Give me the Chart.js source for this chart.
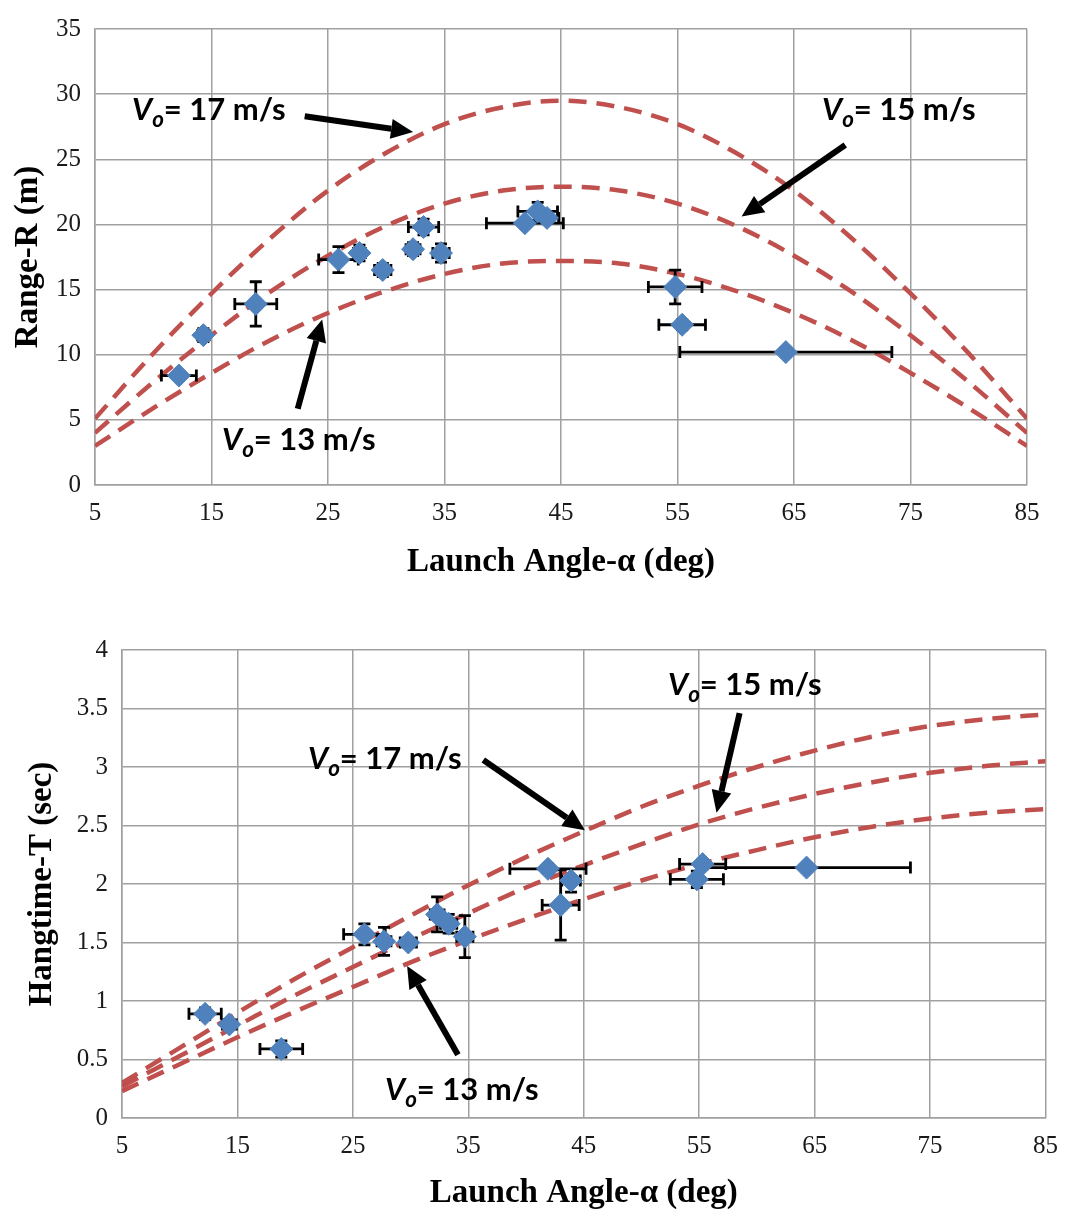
<!DOCTYPE html>
<html>
<head>
<meta charset="utf-8">
<script src="https://cdn.jsdelivr.net/npm/chart.js@4.4.1/dist/chart.umd.min.js"></script>
<style>
  body { margin: 0; background: #fff; }
  #page { position: relative; width: 1071px; height: 1213px; overflow: hidden; }
  #page canvas { position: absolute; left: 0; }
  .note { position: absolute; font: 700 31px Lato, sans-serif; line-height: 40px; white-space: nowrap; color: #000; }
  .note i { font-style: italic; }
  .note sub { font-size: 0.72em; font-style: italic; vertical-align: -0.3em; line-height: 0; }
</style>
</head>
<body>
<div id="page">
  <canvas id="rangeChart" width="1071" height="600" style="top:0"></canvas>
  <canvas id="timeChart" width="1071" height="603" style="top:610px"></canvas>

  <div class="note" style="left:132px;top:88px"><i>V</i><sub>o</sub>= 17 m/s</div>
  <div class="note" style="left:822px;top:88px"><i>V</i><sub>o</sub>= 15 m/s</div>
  <div class="note" style="left:222px;top:418px"><i>V</i><sub>o</sub>= 13 m/s</div>

  <div class="note" style="left:668px;top:663px"><i>V</i><sub>o</sub>= 15 m/s</div>
  <div class="note" style="left:308px;top:737px"><i>V</i><sub>o</sub>= 17 m/s</div>
  <div class="note" style="left:385px;top:1068px"><i>V</i><sub>o</sub>= 13 m/s</div>
</div>
<script>
// tick labels
const angleTicks = ["5", "15", "25", "35", "45", "55", "65", "75", "85"];
const rangeTicks = ["0", "5", "10", "15", "20", "25", "30", "35"];
const timeTicks = ["0", "0.5", "1", "1.5", "2", "2.5", "3", "3.5", "4"];

// measured points, range plot
const rangeAngle = [12.2, 14.3, 18.8, 25.9, 27.7, 29.7, 32.3, 33.2, 34.7, 41.9, 43.0, 43.8, 54.8, 55.4, 64.3];
const rangeValue = [8.4, 11.5, 13.9, 17.3, 17.8, 16.5, 18.1, 19.8, 17.8, 20.1, 21.0, 20.5, 15.2, 12.3, 10.2];
const rangeAngleErr = [1.5, 0.5, 1.8, 1.7, 0.5, 0.7, 0.6, 1.3, 0.7, 3.3, 1.7, 1.0, 2.3, 2.0, 9.1];
const rangeValueErr = [0.3, 0.5, 1.7, 1.0, 0.6, 0.5, 0.5, 0.6, 0.7, 0.3, 0.7, 0.4, 1.3, 0.4, 0.3];

// measured points, hangtime plot
const timeAngle = [12.2, 14.3, 18.8, 26.0, 27.7, 29.8, 32.3, 33.3, 34.7, 41.9, 43.9, 43.0, 55.3, 54.8, 64.3];
const timeValue = [0.89, 0.80, 0.59, 1.57, 1.51, 1.50, 1.74, 1.66, 1.55, 2.13, 2.03, 1.82, 2.17, 2.04, 2.14];
const timeAngleErr = [1.4, 0.6, 1.85, 1.8, 0.6, 0.7, 0.6, 0.7, 0.7, 3.3, 0.8, 1.6, 2.0, 2.3, 9.0];
const timeValueErr = [0.05, 0.04, 0.07, 0.09, 0.12, 0.04, 0.15, 0.08, 0.18, 0.04, 0.10, 0.30, 0.04, 0.07, 0.03];

// model curves, every 5 degrees
const curveAngle = [5, 10, 15, 20, 25, 30, 35, 40, 45, 50, 55, 60, 65, 70, 75, 80, 85];
const range17 = [5.1, 10.1, 14.7, 18.9, 22.6, 25.5, 27.7, 29.0, 29.5, 29.0, 27.7, 25.5, 22.6, 18.9, 14.7, 10.1, 5.1];
const range15 = [4.0, 7.9, 11.5, 14.8, 17.6, 19.9, 21.6, 22.6, 22.9, 22.6, 21.6, 19.9, 17.6, 14.8, 11.5, 7.9, 4.0];
const range13 = [3.0, 5.9, 8.6, 11.1, 13.2, 14.9, 16.2, 17.0, 17.2, 17.0, 16.2, 14.9, 13.2, 11.1, 8.6, 5.9, 3.0];
const time17 = [0.30, 0.60, 0.90, 1.19, 1.46, 1.73, 1.99, 2.23, 2.45, 2.66, 2.84, 3.00, 3.14, 3.26, 3.35, 3.41, 3.45];
const time15 = [0.27, 0.53, 0.79, 1.05, 1.29, 1.53, 1.75, 1.97, 2.16, 2.34, 2.51, 2.65, 2.77, 2.87, 2.95, 3.01, 3.05];
const time13 = [0.23, 0.46, 0.69, 0.91, 1.12, 1.33, 1.52, 1.70, 1.87, 2.03, 2.17, 2.29, 2.40, 2.49, 2.56, 2.61, 2.64];

// annotation arrows: [fromX, fromY, toX, toY] in data units
const rangeArrows = [
  [23.0, 28.3, 32.3, 27.1],
  [69.4, 26.1, 60.5, 20.6],
  [22.4, 5.85, 24.5, 12.7],
];
const timeArrows = [
  [58.5, 3.46, 56.5, 2.61],
  [36.3, 3.06, 45.1, 2.46],
  [34.1, 0.54, 29.7, 1.30],
];

const GRID = "#a0a0a0";
const RED = "#c0504d";
const BLUE = "#4f81bd";

// draw the error bars just before the diamonds
const errorBars = {
  id: "errorBars",
  beforeDatasetDraw(chart, args) {
    if (args.index !== 0) return;
    const { ctx, scales: { x, y } } = chart;
    const cap = 6;
    ctx.save();
    ctx.strokeStyle = "#000";
    ctx.lineWidth = 2.8;
    ctx.beginPath();
    for (const p of chart.data.datasets[0].data) {
      const px = x.getPixelForValue(p.x);
      const py = y.getPixelForValue(p.y);
      const xl = x.getPixelForValue(p.x - p.xe);
      const xr = x.getPixelForValue(p.x + p.xe);
      const yt = y.getPixelForValue(p.y + p.ye);
      const yb = y.getPixelForValue(p.y - p.ye);
      ctx.moveTo(xl, py); ctx.lineTo(xr, py);
      ctx.moveTo(xl, py - cap); ctx.lineTo(xl, py + cap);
      ctx.moveTo(xr, py - cap); ctx.lineTo(xr, py + cap);
      ctx.moveTo(px, yt); ctx.lineTo(px, yb);
      ctx.moveTo(px - cap, yt); ctx.lineTo(px + cap, yt);
      ctx.moveTo(px - cap, yb); ctx.lineTo(px + cap, yb);
    }
    ctx.stroke();
    ctx.restore();
  },
};

const makeArrows = (list) => ({
  id: "arrows",
  afterDraw(chart) {
    const { ctx, scales: { x, y } } = chart;
    ctx.save();
    ctx.fillStyle = "#000";
    ctx.strokeStyle = "#000";
    ctx.lineWidth = 6;
    for (const [x0, y0, x1, y1] of list) {
      const ax = x.getPixelForValue(x0), ay = y.getPixelForValue(y0);
      const bx = x.getPixelForValue(x1), by = y.getPixelForValue(y1);
      const ang = Math.atan2(by - ay, bx - ax);
      const head = 22, half = 10;
      const hx = bx - head * Math.cos(ang), hy = by - head * Math.sin(ang);
      ctx.beginPath();
      ctx.moveTo(ax, ay);
      ctx.lineTo(hx, hy);
      ctx.stroke();
      ctx.beginPath();
      ctx.moveTo(bx, by);
      ctx.lineTo(hx + half * Math.sin(ang), hy - half * Math.cos(ang));
      ctx.lineTo(hx - half * Math.sin(ang), hy + half * Math.cos(ang));
      ctx.closePath();
      ctx.fill();
    }
    ctx.restore();
  },
});

const points = (xs, ys, xe, ye) => xs.map((v, i) => ({ x: v, y: ys[i], xe: xe[i], ye: ye[i] }));
const curve = (ys) => curveAngle.map((v, i) => ({ x: v, y: ys[i] }));

const curveStyle = {
  showLine: true,
  pointRadius: 0,
  borderColor: RED,
  borderWidth: 4.5,
  borderDash: [18, 10],
  cubicInterpolationMode: "monotone",
  order: 1,
};

const makeChart = ({ id, pts, curves, yMax, yStep, yTicks, yTitle, arrows, axisW, axisH, pad, titlePad }) => {
  return new Chart(document.getElementById(id), {
    type: "scatter",
    data: {
      datasets: [
        {
          data: pts,
          pointStyle: "rectRot",
          pointRadius: 11.5,
          backgroundColor: BLUE,
          borderColor: BLUE,
          borderWidth: 1,
          order: 0,
        },
        ...curves.map((c) => ({ data: curve(c), ...curveStyle })),
      ],
    },
    options: {
      responsive: false,
      animation: false,
      events: [],
      layout: { padding: pad },
      plugins: { legend: { display: false }, tooltip: { enabled: false } },
      scales: {
        x: {
          min: 5,
          max: 85,
          afterBuildTicks: (s) => { s.ticks = angleTicks.map((t) => ({ value: Number(t) })); },
          afterFit: (s) => { s.height = axisH; },
          ticks: {
            callback: (v, i) => angleTicks[i],
            font: { family: "Liberation Serif", size: 25 },
            color: "#1a1a1a",
            padding: 13,
            maxRotation: 0,
          },
          grid: { color: GRID, lineWidth: 1.5, drawTicks: false },
          border: { display: true, color: GRID, width: 1.5 },
          title: {
            display: true,
            text: "Launch Angle-α (deg)",
            font: { family: "Liberation Serif", size: 33, weight: "bold" },
            color: "#000",
            padding: { top: 0, bottom: titlePad.x },
          },
        },
        y: {
          min: 0,
          max: yMax,
          ticks: {
            stepSize: yStep,
            callback: (v, i) => yTicks[i],
            font: { family: "Liberation Serif", size: 25 },
            color: "#1a1a1a",
            padding: 14,
          },
          afterFit: (s) => { s.width = axisW; },
          grid: { color: GRID, lineWidth: 1.5, drawTicks: false },
          border: { display: true, color: GRID, width: 1.5 },
          title: {
            display: true,
            text: yTitle,
            font: { family: "Liberation Serif", size: 33, weight: "bold" },
            color: "#000",
            padding: { top: titlePad.y, bottom: 0 },
          },
        },
      },
    },
    plugins: [errorBars, makeArrows(arrows)],
  });
};

makeChart({
  id: "rangeChart",
  pts: points(rangeAngle, rangeValue, rangeAngleErr, rangeValueErr),
  curves: [range17, range15, range13],
  yMax: 35,
  yStep: 5,
  yTicks: rangeTicks,
  yTitle: "Range-R (m)",
  arrows: rangeArrows,
  axisW: 95,
  axisH: 115,
  pad: { top: 18, right: 44, bottom: 0, left: 0 },
  titlePad: { x: 18, y: 9 },
});

makeChart({
  id: "timeChart",
  pts: points(timeAngle, timeValue, timeAngleErr, timeValueErr),
  curves: [time17, time15, time13],
  yMax: 4,
  yStep: 0.5,
  yTicks: timeTicks,
  yTitle: "Hangtime-T (sec)",
  arrows: timeArrows,
  axisW: 122,
  axisH: 95,
  pad: { top: 40, right: 16, bottom: 0, left: 0 },
  titlePad: { x: 0, y: 23 },
});
</script>
</body>
</html>
